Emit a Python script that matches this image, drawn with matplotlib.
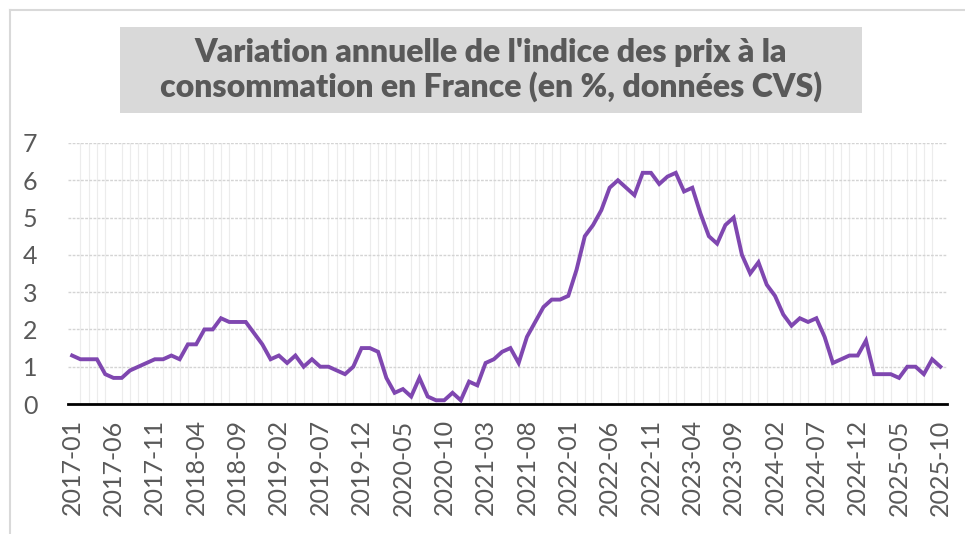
"""Variation annuelle de l'IPC en France (en %, données CVS), 2017-01 à 2025-10."""

import matplotlib

matplotlib.use("Agg")
import matplotlib.pyplot as plt
import numpy as np
import pandas as pd
from matplotlib.patches import Rectangle

plt.rcParams["font.family"] = ["Lato", "DejaVu Sans"]

# Monthly values, one list per year
infl_2017 = [1.3, 1.2, 1.2, 1.2, 0.8, 0.7, 0.7, 0.9, 1.0, 1.1, 1.2, 1.2]
infl_2018 = [1.3, 1.2, 1.6, 1.6, 2.0, 2.0, 2.3, 2.2, 2.2, 2.2, 1.9, 1.6]
infl_2019 = [1.2, 1.3, 1.1, 1.3, 1.0, 1.2, 1.0, 1.0, 0.9, 0.8, 1.0, 1.5]
infl_2020 = [1.5, 1.4, 0.7, 0.3, 0.4, 0.2, 0.7, 0.2, 0.1, 0.1, 0.3, 0.1]
infl_2021 = [0.6, 0.5, 1.1, 1.2, 1.4, 1.5, 1.1, 1.8, 2.2, 2.6, 2.8, 2.8]
infl_2022 = [2.9, 3.6, 4.5, 4.8, 5.2, 5.8, 6.0, 5.8, 5.6, 6.2, 6.2, 5.9]
infl_2023 = [6.1, 6.2, 5.7, 5.8, 5.1, 4.5, 4.3, 4.8, 5.0, 4.0, 3.5, 3.8]
infl_2024 = [3.2, 2.9, 2.4, 2.1, 2.3, 2.2, 2.3, 1.8, 1.1, 1.2, 1.3, 1.3]
infl_2025 = [1.7, 0.8, 0.8, 0.8, 0.7, 1.0, 1.0, 0.8, 1.2, 1.0]

values = (infl_2017 + infl_2018 + infl_2019 + infl_2020 + infl_2021
          + infl_2022 + infl_2023 + infl_2024 + infl_2025)
months = pd.period_range("2017-01", periods=len(values), freq="M").strftime("%Y-%m")

TITLE = "Variation annuelle de l'indice des prix à la\nconsommation en France (en %, données CVS)"
GREY_TXT = "#595959"
PURPLE = "#7f47b0"

fig = plt.figure(figsize=(9.65, 5.34), dpi=100)

# outer frame of the chart object
fig.add_artist(plt.Line2D([10 / 965, 1], [1 - 10 / 534] * 2, transform=fig.transFigure,
                          color="#d9d9d9", lw=1.5))
fig.add_artist(plt.Line2D([10 / 965] * 2, [0, 1 - 10 / 534], transform=fig.transFigure,
                          color="#d9d9d9", lw=1.5))

# title on its grey box
fig.add_artist(Rectangle((120 / 965, 1 - 113 / 534), 742 / 965, 86 / 534,
                         transform=fig.transFigure, facecolor="#d9d9d9", edgecolor="none"))
fig.text(491 / 965, 1 - 70 / 534, TITLE, ha="center", va="center", fontsize=23,
         fontweight="heavy", color=GREY_TXT, linespacing=1.15)

ax = fig.add_axes([68 / 965, 130 / 534, 879 / 965, 261 / 534])
x = np.arange(len(values))
ax.plot(x, values, color=PURPLE, lw=2.8, solid_joinstyle="miter", zorder=3)

ax.set_xlim(-0.5, len(values) - 0.2)
ax.set_ylim(0, 7)

# monthly light vertical grid, dotted horizontal grid
ax.set_xticks(x, minor=True)
ax.grid(axis="x", which="minor", color="#ececec", lw=0.8)
ax.set_yticks(range(0, 8))
ax.grid(axis="y", which="major", color="#d4d4d4", lw=1.0, ls=(0, (2, 1)))
ax.set_axisbelow(True)

ax.set_xticks(x[::5])
ax.set_xticklabels(months[::5], rotation=90, fontsize=18, color=GREY_TXT)
ax.tick_params(axis="x", which="both", length=0, pad=11)
ax.tick_params(axis="y", length=0, pad=22, labelsize=18, labelcolor=GREY_TXT)

for side in ["left", "right", "top"]:
    ax.spines[side].set_visible(False)
ax.spines["bottom"].set_color("black")
ax.spines["bottom"].set_linewidth(2)

fig.savefig("out.png", dpi=100)
